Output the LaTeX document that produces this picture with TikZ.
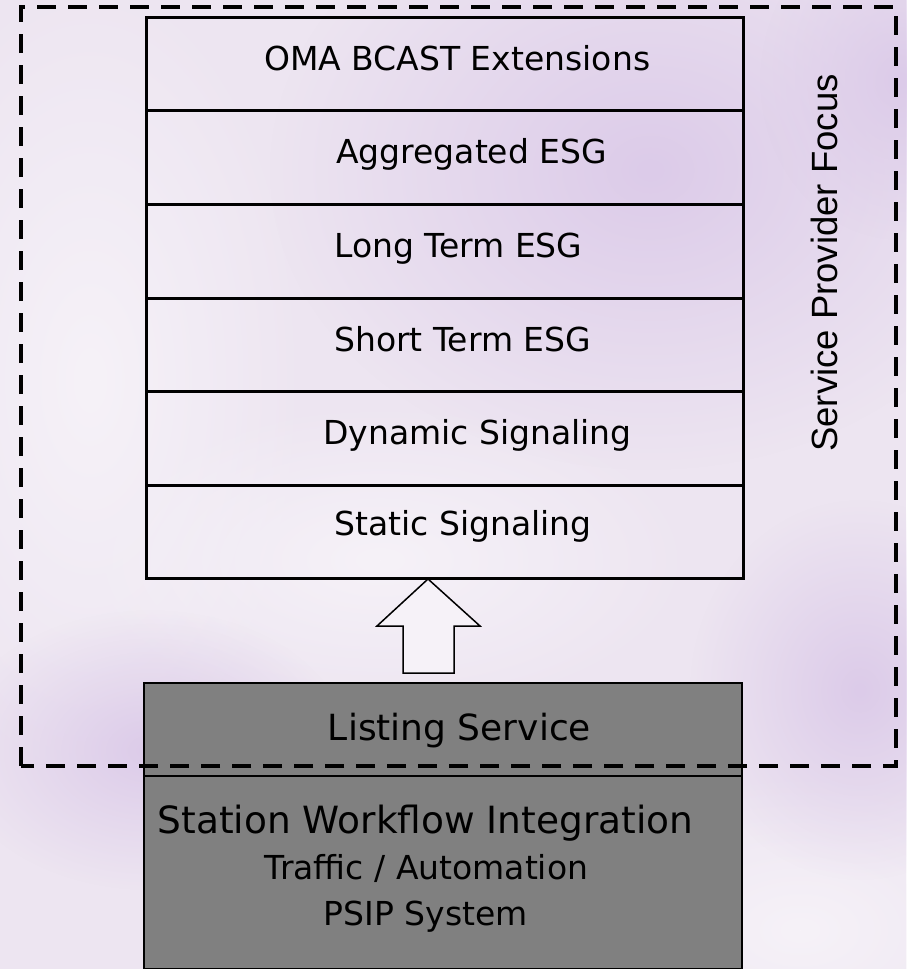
\documentclass[tikz,border=0pt]{standalone}
\usepackage{fontspec}
\setmainfont{DejaVu Sans}
\newfontfamily\arialfont{Liberation Sans}
\usetikzlibrary{fadings}
\definecolor{bgbase}{RGB}{237,229,241}
\definecolor{bglilac}{RGB}{220,203,233}
\definecolor{bglight}{RGB}{246,242,248}
\definecolor{boxgrey}{RGB}{128,128,128}
\tikzfading[name=softspot, inner color=transparent!0, outer color=transparent!100]
\tikzset{
  layer/.style={draw=black, line width=2.5pt, minimum width=597pt, inner sep=0pt, anchor=north west},
  greybox/.style={draw=black, line width=2pt, fill=boxgrey, minimum width=598pt, inner sep=0pt, anchor=north west},
  label/.style={anchor=base west, inner sep=0pt, font=\fontsize{33}{40}\selectfont},
  clabel/.style={anchor=base, inner sep=0pt},
  focusline/.style={draw=black, line width=4.5pt, dash pattern=on 19pt off 12pt},
  blob/.style={fill=#1, path fading=softspot},
}
\begin{document}
\begin{tikzpicture}[x=1pt, y=-1pt]
  % canvas and soft background
  \useasboundingbox (0,0) rectangle (906,969);
  \fill[bgbase] (0,0) rectangle (906,969);
  \fill[blob=bglight] (90,380) ellipse (220 and 420);
  \fill[blob=bglight] (380,560) ellipse (320 and 160);
  \fill[blob=bglight] (800,930) ellipse (260 and 160);
  \fill[blob=bglilac] (650,170) ellipse (380 and 300);
  \fill[blob=bglilac] (860,690) ellipse (170 and 190);
  \fill[blob=bglilac] (150,750) ellipse (200 and 140);
  \fill[blob=bglilac] (900,80) ellipse (140 and 160);

  % layered signalling stack
  \node[layer, minimum height=93pt]   (oma)  at (145,16)  {};
  \node[layer, minimum height=94pt]   (agg)  at (145,109) {};
  \node[layer, minimum height=94pt]   (lt)   at (145,203) {};
  \node[layer, minimum height=93pt]   (st)   at (145,297) {};
  \node[layer, minimum height=94pt]   (dyn)  at (145,390) {};
  \node[layer, minimum height=93pt]   (stat) at (145,484) {};

  \node[label] (omaT)  at (264,70)  {OMA BCAST Extensions};
  \node[label] (aggT)  at (336,163) {Aggregated ESG};
  \node[label] (ltT)   at (334,257) {Long Term ESG};
  \node[label] (stT)   at (334,351) {Short Term ESG};
  \node[label] (dynT)  at (323,444) {Dynamic Signaling};
  \node[label] (statT) at (334,535) {Static Signaling};

  % grey source boxes
  \node[greybox, minimum height=93pt]  (list) at (143,682) {};
  \node[greybox, minimum height=193pt] (swi)  at (143,775) {};
  \node[clabel, font=\fontsize{36}{42}\selectfont] (listT) at (459.5,740) {Listing Service};
  \node[clabel, font=\fontsize{37.5}{44}\selectfont] (swiT) at (425.5,833) {Station Workflow Integration};
  \node[clabel, font=\fontsize{33}{40}\selectfont] (trafT) at (426.5,879) {Traffic / Automation};
  \node[clabel, font=\fontsize{33}{40}\selectfont] (psipT) at (426,925) {PSIP System};

  % hollow block arrow from listing service up to the stack
  \draw[line width=1.5pt, fill=bglight, line join=miter]
    (403,673) -- (403,626) -- (377,626) -- (428,579) -- (480,626)
    -- (454,626) -- (454,673) -- cycle;

  % service provider focus boundary
  \draw[focusline] (21,766) -- (21,7) -- (896,7) -- (896,766) -- cycle;
  \node[anchor=base, inner sep=0pt, rotate=90, font=\arialfont\fontsize{36.5}{42}\selectfont]
    (focus) at (837,263) {Service Provider Focus};
\end{tikzpicture}
\end{document}
